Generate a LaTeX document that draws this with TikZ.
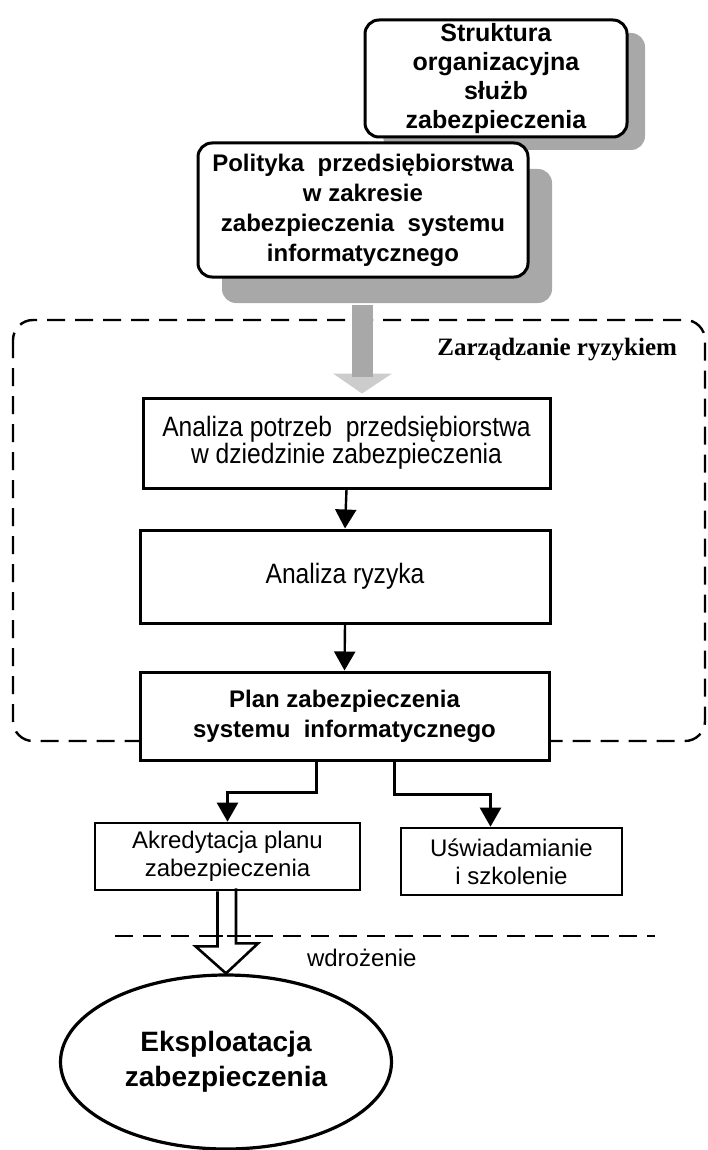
\documentclass[tikz,border=0pt]{standalone}
\usepackage{fontspec}
\setmainfont{Liberation Sans}
\newfontfamily\narrowsans[FakeStretch=0.88]{Liberation Sans}
\newfontfamily\serifbold{Liberation Serif}
\usetikzlibrary{arrows.meta,calc,shapes.geometric,shadows}
\definecolor{shadowgray}{gray}{0.66}
\definecolor{headgray}{gray}{0.8}
\begin{document}
\begin{tikzpicture}[x=0.5pt,y=-0.5pt,
  rbox/.style={draw, line width=1.5pt, rounded corners=7pt, fill=white, align=center,
    inner sep=0pt, font=\bfseries\fontsize{12}{14.5}\selectfont},
  sbox/.style={draw, line width=1.5pt, fill=white, align=center, inner sep=0pt},
  conn/.style={line width=1.2pt, -{Triangle[length=9.5pt,width=10.5pt]}},
  dashline/.style={line width=1.2pt, dash pattern=on 9pt off 5pt},
]
\useasboundingbox (0,0) rectangle (707,1150);

% risk management frame
\draw[dashline, rounded corners=10pt] (13,320) rectangle (705,741);
\draw[dashline] (115,936) -- (655,936);

% top boxes with shadows
\node[rbox, minimum width=131pt, minimum height=58.5pt,
  font=\bfseries\fontsize{12.5}{14.5}\selectfont,
  drop shadow={shadow xshift=9pt, shadow yshift=-6.5pt, fill=shadowgray, opacity=1}]
  (strukt) at (496,78.5) {Struktura\\organizacyjna\\służb\\zabezpieczenia};
\node[rbox, minimum width=165pt, minimum height=67pt,
  font=\bfseries\fontsize{12}{15}\selectfont,
  drop shadow={shadow xshift=12pt, shadow yshift=-13pt, fill=shadowgray, opacity=1}]
  (polit) at (363,210) {Polityka\ \ przedsiębiorstwa\\w zakresie\\zabezpieczenia\ \ systemu\\informatycznego};

% grey arrow (faint head, darker stem)
\fill[headgray] ($(polit.south)+(-11,95)$) -- ++(-19,0) -- ++(29,20) -- ++(30,-20) -- ++(-19,0) -- cycle;
\fill[shadowgray] ($(polit.south)+(-11,26)$) rectangle ($(polit.south)+(10,98)$);

\node[anchor=east, font=\serifbold\bfseries\fontsize{12.5}{14}\selectfont] (zr) at (684,350) {Zarządzanie ryzykiem};

% main chain
\node[sbox, minimum width=203.5pt, minimum height=45pt,
  font=\narrowsans\fontsize{14}{13.5}\selectfont]
  (anal1) at (346.5,443) {Analiza\ potrzeb\ \ przedsiębiorstwa\\w\ dziedzinie\ zabezpieczenia};
\node[sbox, minimum width=205pt, minimum height=46.5pt,
  font=\narrowsans\fontsize{14}{13.5}\selectfont]
  (anal2) at (345,576.5) {Analiza ryzyka};
\node[sbox, minimum width=204.5pt, minimum height=44pt,
  font=\bfseries\fontsize{12}{15}\selectfont]
  (plan) at (344.5,716) {Plan zabezpieczenia\\systemu\ \ informatycznego};

\draw[conn] (anal1.south) -- (anal2.north);
\draw[conn] (anal2.south) -- (plan.north);

% lower boxes
\node[sbox, line width=1.3pt, minimum width=132.5pt, minimum height=33.5pt,
  font=\fontsize{12}{14}\selectfont]
  (akr) at (227.5,856.5) {Akredytacja planu\\zabezpieczenia};
\node[sbox, line width=1.3pt, minimum width=110.5pt, minimum height=33.5pt,
  font=\fontsize{12}{14}\selectfont]
  (usw) at (511.5,861.5) {Uświadamianie\\i szkolenie};

\coordinate (pl1) at ($(plan.south)+(-28,0)$);
\coordinate (pl2) at ($(plan.south)+(50,0)$);
\coordinate (uswin) at ($(usw.north)+(-21,0)$);
\draw[conn] (pl1) -- ++(0,31) -| (akr.north);
\draw[conn] (pl2) -- ++(0,33) -| (uswin);

% ellipse
\node[draw, ellipse, line width=1.6pt, inner sep=0pt, minimum width=165.5pt, minimum height=87pt,
  align=center, font=\bfseries\fontsize{14}{17.5}\selectfont]
  (eksp) at (226,1062) {Eksploatacja\\zabezpieczenia};

% hollow arrow
\draw[line width=1.3pt, line join=miter] ($(akr.south)+(-10,0)$) -- ++(0,55) -- ++(-22,0)
  -- (eksp.north) -- ++(32,-30) -- ++(-22,0) -- ++(0,-55);
\draw[dashline] (205,936) -- (255,936);

\node[anchor=west, font=\fontsize{12}{14}\selectfont] (wdr) at (300,958) {wdrożenie};
\end{tikzpicture}
\end{document}
